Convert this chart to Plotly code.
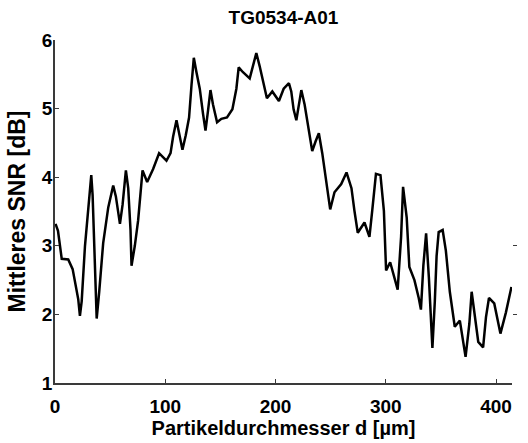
import plotly.graph_objects as go

# Mean SNR versus particle diameter, sample TG0534-A01
diameter_um = [
    0.5, 2.7, 6.1, 12.0, 16.0, 19.0, 21.1, 22.6, 24.2, 27.2, 30.3, 32.9, 34.1, 36.2, 37.8,
    40.1, 43.7, 48.3, 51.3, 52.8, 55.2, 57.3, 58.9, 61.3, 63.4, 64.3, 66.4, 68.5, 69.4,
    72.4, 75.4, 78.5, 79.4, 83.6, 89.0, 94.4, 97.5, 101.1, 104.8, 107.1, 110.2, 112.5,
    115.6, 118.6, 121.6, 123.8, 125.9, 128.3, 131.3, 134.3, 136.5, 138.8, 141.0, 143.3,
    147.0, 150.9, 156.0, 160.9, 164.5, 166.6, 170.5, 176.6, 180.2, 182.6, 185.6, 188.6,
    192.2, 197.1, 203.1, 207.4, 212.2, 214.3, 216.4, 218.9, 221.2, 223.4, 226.4, 229.4,
    233.3, 236.3, 239.3, 242.4, 245.4, 249.6, 253.5, 259.6, 264.4, 268.9, 271.6, 274.6,
    280.7, 285.2, 287.7, 291.1, 295.2, 298.3, 300.3, 304.0, 310.8, 312.4, 313.9, 315.7,
    319.0, 321.4, 326.0, 329.9, 331.9, 334.1, 336.6, 339.1, 340.9, 342.3, 344.5, 346.1,
    348.0, 351.6, 354.5, 358.1, 362.6, 367.2, 372.4, 375.8, 377.9, 379.8, 383.9, 388.3,
    390.9, 393.6, 398.4, 404.0, 409.0, 414.0,
]
snr_db = [
    3.32, 3.22, 2.81, 2.80, 2.66, 2.43, 2.22, 1.98, 2.19, 3.00, 3.53, 4.03, 3.74, 2.76, 1.94,
    2.33, 3.04, 3.56, 3.81, 3.88, 3.72, 3.46, 3.32, 3.60, 3.91, 4.10, 3.84, 3.23, 2.71,
    3.00, 3.37, 3.88, 4.10, 3.93, 4.12, 4.35, 4.30, 4.24, 4.35, 4.59, 4.83, 4.64,
    4.40, 4.61, 4.87, 5.34, 5.74, 5.53, 5.29, 4.92, 4.68, 4.97, 5.27, 5.06,
    4.80, 4.85, 4.87, 4.99, 5.29, 5.60, 5.53, 5.44, 5.67, 5.81, 5.62, 5.39,
    5.15, 5.25, 5.11, 5.29, 5.37, 5.25, 4.99, 4.83, 5.06, 5.27, 5.06, 4.75,
    4.38, 4.52, 4.64, 4.35, 4.03, 3.53, 3.78, 3.90, 4.07, 3.84, 3.51, 3.19,
    3.34, 3.13, 3.51, 4.05, 4.03, 3.51, 2.64, 2.76, 2.36, 2.78, 3.13, 3.86,
    3.41, 2.69, 2.50, 2.24, 2.07, 2.71, 3.18, 2.54, 1.91, 1.51, 2.19, 2.85,
    3.20, 3.23, 2.93, 2.33, 1.82, 1.91, 1.38, 1.86, 2.33, 2.07, 1.60, 1.52,
    1.96, 2.24, 2.16, 1.72, 2.03, 2.40,
]

x_ticks = [0, 100, 200, 300, 400]
y_ticks = [1, 2, 3, 4, 5, 6]
right_ticks = [2, 3]

axis_color = "#3a3a3a"
font = dict(family="Liberation Sans, Arial, sans-serif", size=19, color="black", weight="bold")
xtitle_font = dict(font, size=20)

fig = go.Figure()
fig.add_trace(go.Scatter(
    x=diameter_um, y=snr_db, mode="lines",
    line=dict(color="black", width=2.5),
    showlegend=False,
))
# empty trace so the secondary (right) axis is drawn
fig.add_trace(go.Scatter(x=[], y=[], yaxis="y2", showlegend=False, hoverinfo="skip"))

fig.update_layout(
    width=528, height=443,
    margin=dict(l=55, r=15, t=40, b=48),
    paper_bgcolor="white", plot_bgcolor="white",
    font=font,
    title=dict(text="TG0534-A01", x=0.5, xref="paper", y=1 - 17 / 443, yref="container",
               xanchor="center", yanchor="middle", font=font),
    xaxis=dict(
        range=[0, 414.5], tickvals=x_ticks, ticks="inside", ticklen=4, tickcolor=axis_color,
        showline=True, linecolor=axis_color, linewidth=1.5, showgrid=False, zeroline=False,
        ticklabelstandoff=5,
        title=dict(text="Partikeldurchmesser d [µm]", standoff=0, font=xtitle_font), tickfont=font,
    ),
    yaxis=dict(
        range=[1, 6], tickvals=y_ticks, ticks="inside", ticklen=4, tickcolor=axis_color,
        showline=True, linecolor=axis_color, linewidth=1.5, showgrid=False, zeroline=False,
        ticklabelstandoff=-3,
        title=dict(text="Mittleres SNR [dB]", standoff=10), tickfont=font,
    ),
    yaxis2=dict(
        range=[1, 6], overlaying="y", side="right", tickvals=right_ticks, ticks="outside",
        ticklen=4, tickcolor=axis_color, showticklabels=False, showline=False,
        showgrid=False, zeroline=False,
    ),
)

fig.write_html("out.html")
